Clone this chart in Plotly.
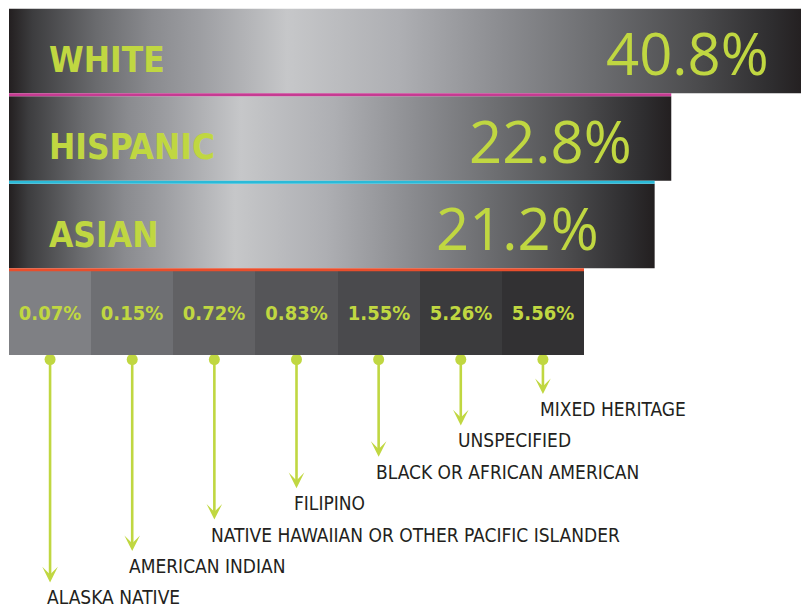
import numpy as np
import plotly.graph_objects as go

W, H = 809, 610

# ---------------- data ----------------
major_groups = ["WHITE", "HISPANIC", "ASIAN"]
major_values = [40.8, 22.8, 21.2]

minor_groups = [
    "ALASKA NATIVE",
    "AMERICAN INDIAN",
    "NATIVE HAWAIIAN OR OTHER PACIFIC ISLANDER",
    "FILIPINO",
    "BLACK OR AFRICAN AMERICAN",
    "UNSPECIFIED",
    "MIXED HERITAGE",
]
minor_values = [0.07, 0.15, 0.72, 0.83, 1.55, 5.26, 5.56]

# ---------------- styles ----------------
LIME = "#c0d741"
INK = "#231f20"
NARROW_BOLD = "DejaVu Sans Condensed, DejaVu Sans, sans-serif"
NARROW = "DejaVu Sans Condensed, DejaVu Sans, sans-serif"
ROUND = "Open Sans, Noto Sans, sans-serif"
divider_colors = ["#c63b92", "#2bbad8", "#e94e2c"]
cell_colors = ["#7f8084", "#6e6f73", "#616164", "#555558", "#4a4a4d", "#3b3b3d", "#323133"]
pct_inset = [33, 37, 54]             # right inset (px) of the percentage labels
metal = [
    [0.00, "#231f20"], [0.03, "#3d3d3f"], [0.11, "#6a6b6e"], [0.18, "#8a8b8f"],
    [0.24, "#9d9ea2"], [0.35, "#c6c7c9"], [0.49, "#aeafb3"], [0.62, "#8b8c90"],
    [0.74, "#6c6d70"], [0.87, "#4a4a4c"], [0.96, "#2e2d2f"], [1.00, "#231f20"],
]

# layout geometry (figure pixels; the page adds an 8px body margin)
LEFT = 1
PX_PER_DECADE = 526.0
LOG0 = 52.0 / PX_PER_DECADE          # log10 value at which a bar has zero length
ROW_PX = 87.5                        # band pitch of the big bars
BAND_END = 261.75                    # px of the boundary below the last big bar
TOP_BOTTOM = 266.0                   # bottom of big-bar axis area (px from top)
ROW_Y0, ROW_Y1 = 263, 347            # small-cell row (px from top)
ROW_X1 = 576                         # right end of small-cell row
HALF = (ROW_PX - 3) / 2 / ROW_PX     # bar half height in row units

x_left = 10 ** LOG0
y_bot = 2.5 + (TOP_BOTTOM - BAND_END) / ROW_PX
y_top = y_bot - TOP_BOTTOM / ROW_PX  # row coordinate at figure top edge

fig = go.Figure()

# ---- big metallic bars (horizontal gradient fills on a log axis) ----
for i, (g, v) in enumerate(zip(major_groups, major_values)):
    fig.add_trace(go.Scatter(
        x=[x_left, v, v, x_left, x_left],
        y=[i - HALF, i - HALF, i + HALF, i + HALF, i - HALF],
        mode="lines", line=dict(width=0), fill="toself",
        fillgradient=dict(type="horizontal", colorscale=metal),
        xaxis="x", yaxis="y", hoverinfo="skip", showlegend=False,
    ))

# ---- coloured divider lines (length = bar below) ----
for i in range(len(major_values) - 1):
    fig.add_trace(go.Scatter(
        x=[x_left, major_values[i + 1]], y=[i + 0.5, i + 0.5],
        mode="lines", line=dict(color=divider_colors[i], width=3),
        xaxis="x", yaxis="y", hoverinfo="skip", showlegend=False,
    ))

# ---- small cells row ----
fig.add_trace(go.Bar(
    x=minor_groups, y=np.ones(len(minor_groups)),
    marker=dict(color=cell_colors, line=dict(width=0)),
    text=[f"{v:.2f}%" for v in minor_values],
    textposition="inside", insidetextanchor="middle", constraintext="none",
    textangle=0,
    insidetextfont=dict(family=NARROW_BOLD, size=20, color=LIME, weight=700),
    xaxis="x2", yaxis="y2", hoverinfo="skip", showlegend=False,
))

# ---- dots at top of pointer arrows ----
DOT_Y = 4.5
fig.add_trace(go.Scatter(
    x=minor_groups, y=[DOT_Y] * len(minor_groups), mode="markers",
    marker=dict(color=LIME, size=11),
    xaxis="x2", yaxis="y3", hoverinfo="skip", showlegend=False,
))

annotations = []
# names and percentages in big bars
for i, (g, v) in enumerate(zip(major_groups, major_values)):
    annotations.append(dict(
        text=g, xref="paper", x=LEFT / W, xshift=38, xanchor="left",
        yref="y", y=i, yanchor="middle", yshift=-8.5, showarrow=False,
        font=dict(family=NARROW_BOLD, size=35, color=LIME, weight=700),
    ))
    annotations.append(dict(
        text=f"{v:.1f}%", xref="x", x=np.log10(v), xshift=-pct_inset[i], xanchor="right",
        yref="y", y=i, yanchor="middle", yshift=-1.5, showarrow=False,
        font=dict(family=ROUND, size=58, color=LIME),
    ))

# pointer arrows + labels (staircase)
n = len(minor_groups)
for i, g in enumerate(minor_groups):
    tip = 39 + 31.4 * (n - 1 - i)
    annotations.append(dict(
        text="", xref="x2", x=g, yref="y3", y=tip,
        showarrow=True, ax=0, ay=-(tip - DOT_Y),
        arrowhead=3, arrowsize=1.0, arrowwidth=2.6, arrowcolor=LIME,
        standoff=0, startstandoff=0,
    ))
    annotations.append(dict(
        text=g, xref="x2", x=g, xanchor="left", xshift=-5,
        yref="y3", y=tip + 15, yanchor="middle", showarrow=False,
        font=dict(family=NARROW, size=19, color=INK),
    ))

shapes = [dict(
    type="line", xref="paper", x0=LEFT / W, x1=ROW_X1 / W,
    yref="y", y0=2.5, y1=2.5, line=dict(color=divider_colors[2], width=3),
)]

fig.update_layout(
    width=W, height=H, margin=dict(l=0, r=0, t=0, b=0),
    paper_bgcolor="white", plot_bgcolor="white",
    bargap=0, showlegend=False,
    xaxis=dict(type="log", domain=[LEFT / W, 1], range=[LOG0, LOG0 + (W - LEFT) / PX_PER_DECADE],
               visible=False, fixedrange=True),
    yaxis=dict(domain=[1 - TOP_BOTTOM / H, 1], range=[y_bot, y_top],
               visible=False, fixedrange=True),
    xaxis2=dict(domain=[LEFT / W, ROW_X1 / W], range=[-0.5, len(minor_groups) - 0.5],
                anchor="y2", visible=False, fixedrange=True),
    yaxis2=dict(domain=[1 - ROW_Y1 / H, 1 - ROW_Y0 / H], range=[0, 1],
                anchor="x2", visible=False, fixedrange=True),
    yaxis3=dict(domain=[0, 1 - ROW_Y1 / H], range=[H - ROW_Y1, 0],
                anchor="x2", visible=False, fixedrange=True),
    annotations=annotations, shapes=shapes,
)

fig.write_html("out.html")
